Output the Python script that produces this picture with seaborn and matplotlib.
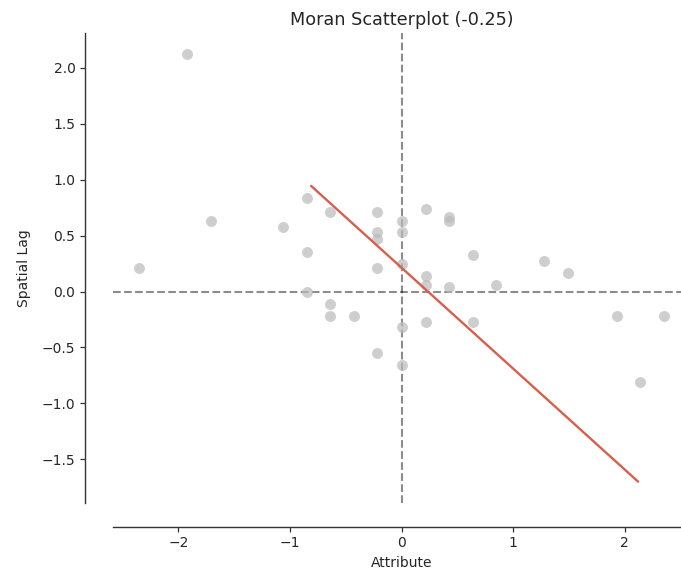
import matplotlib
matplotlib.use("Agg")
import matplotlib.pyplot as plt
import seaborn as sns
import numpy as np

# Standardized attribute values (x) and their spatial lag (y)
attribute = [-1.92, -2.35, -1.71, -1.06,
             -0.85, -0.85, -0.85,
             -0.64, -0.64, -0.64,
             -0.43,
             -0.22, -0.22, -0.22, -0.22, -0.22,
             0.00, 0.00, 0.00, 0.00, 0.00,
             0.22, 0.22, 0.22, 0.22,
             0.43, 0.43, 0.43,
             0.64, 0.64,
             0.85, 1.28, 1.49, 1.93, 2.14, 2.35]
spatial_lag = [2.12, 0.21, 0.63, 0.58,
               0.84, 0.35, 0.00,
               0.71, -0.11, -0.215,
               -0.215,
               0.71, 0.53, 0.47, 0.21, -0.55,
               0.63, 0.535, 0.25, -0.32, -0.655,
               0.735, 0.14, 0.06, -0.27,
               0.67, 0.63, 0.04,
               0.33, -0.27,
               0.06, 0.27, 0.17, -0.22, -0.81, -0.22]
title = "Moran Scatterplot (-0.25)"

z = np.array(attribute)
lag = np.array(spatial_lag)

sns.set_style("white")
plt.rcParams['font.family'] = ['DejaVu Sans']
plt.rcParams['font.size'] = 10

fig = plt.figure(figsize=(6.81, 5.73), dpi=100)
ax = fig.add_axes([113/681, 70/573, 577/681, 470/573])

sns.scatterplot(x=z, y=lag, ax=ax, color='#bababa', alpha=0.7, s=62,
                linewidth=0, zorder=2)
# fitted line (as drawn by splot: fit over the lag values)
sns.regplot(x=lag, y=z, ax=ax, scatter=False, ci=None, truncate=True,
            line_kws=dict(color='#d6604d', lw=1.7, zorder=3))

ax.axvline(0, alpha=0.45, color='k', linestyle='--', lw=1.5, zorder=1)
ax.axhline(0, alpha=0.45, color='k', linestyle='--', lw=1.5, zorder=1)

ax.set_title(title, fontsize=12.7)
ax.set_xlabel("Attribute", fontsize=10)
ax.set_ylabel("Spatial Lag", fontsize=10, labelpad=8)

for s in ['top', 'right']:
    ax.spines[s].set_visible(False)
ax.spines['left'].set_position(('outward', 20))
ax.spines['bottom'].set_position(('outward', 17))
for s in ['left', 'bottom']:
    ax.spines[s].set_color('#333333')
    ax.spines[s].set_linewidth(1.0)
ax.tick_params(axis='both', which='both', bottom=True, left=True,
               length=3.5, width=0.9, color='#333333', labelsize=10)
ax.set_xticks([-2, -1, 0, 1, 2])
ax.set_yticks([-1.5, -1.0, -0.5, 0.0, 0.5, 1.0, 1.5, 2.0])
ax.set_xticklabels(["\u22122", "\u22121", "0", "1", "2"])
ax.set_yticklabels(["\u22121.5", "\u22121.0", "\u22120.5", "0.0", "0.5", "1.0", "1.5", "2.0"])

fig.savefig("out.png", dpi=100)
